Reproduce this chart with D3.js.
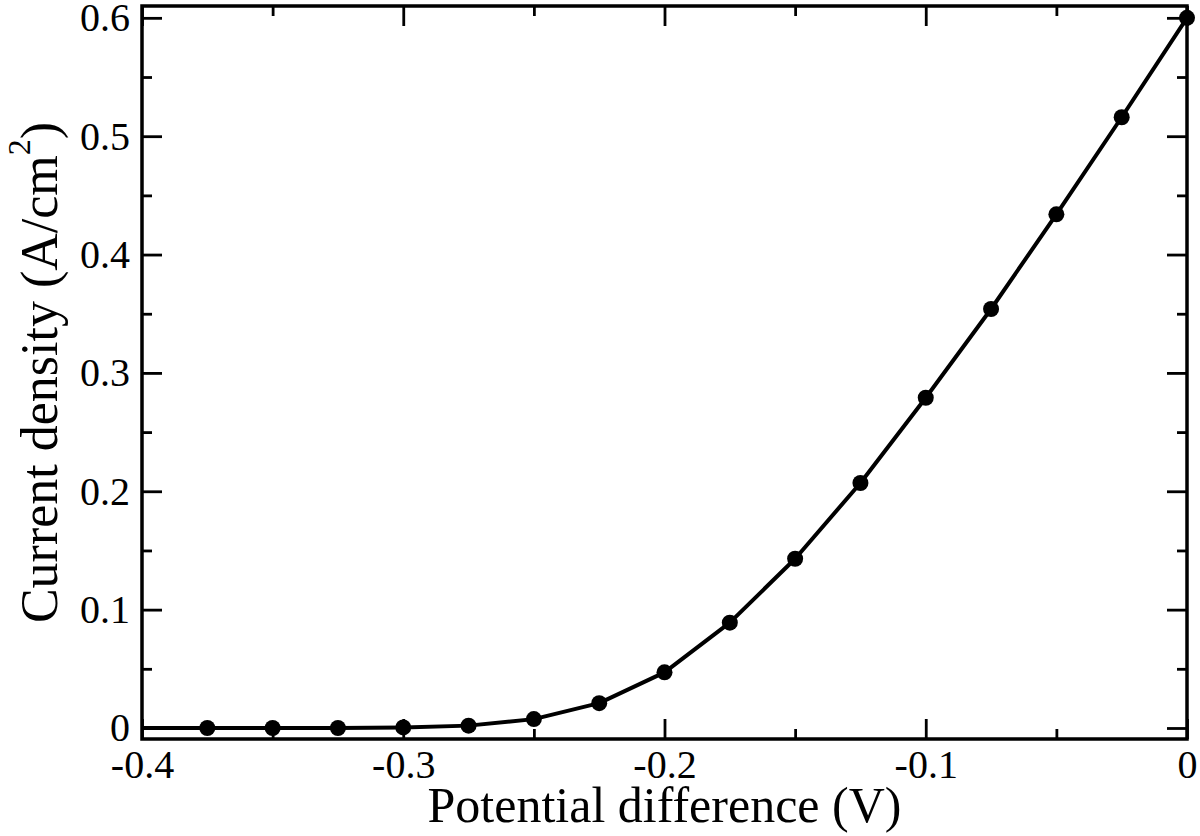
<!DOCTYPE html>
<html>
<head>
<meta charset="utf-8">
<script src="https://cdn.jsdelivr.net/npm/d3@7"></script>
<style>
  body { margin: 0; background: #fff; }
  svg { display: block; }
  text { font-family: "Liberation Serif", "Times New Roman", serif; fill: #000; }
</style>
</head>
<body>
<div id="chart"></div>
<script>
'use strict'
// potential (V) and current density (A/cm^2)
const potential = [-0.4, -0.375, -0.35, -0.325, -0.3, -0.275, -0.25, -0.225, -0.2,
  -0.175, -0.15, -0.125, -0.1, -0.075, -0.05, -0.025, 0];
const current = [0, 0, 0, 0, 0.0005, 0.002, 0.0075, 0.021, 0.047,
  0.089, 0.143, 0.207, 0.279, 0.354, 0.434, 0.516, 0.6];
// first sample has no symbol, only the line
const firstMarker = 1;

const xMajor = [-0.4, -0.3, -0.2, -0.1, 0];
const xMinor = [-0.35, -0.25, -0.15, -0.05];
const yMajor = [0, 0.1, 0.2, 0.3, 0.4, 0.5, 0.6];
const yMinor = [0.05, 0.15, 0.25, 0.35, 0.45, 0.55];

const xLabel = 'Potential difference (V)';

const W = 1200, H = 836;
const margin = {left: 142, top: 6, right: 13, bottom: 97};
const width = W - margin.left - margin.right;
const height = H - margin.top - margin.bottom;

const svg = d3.select('#chart').append('svg')
  .attr('width', W)
  .attr('height', H);

const g = svg.append('g')
  .attr('transform', 'translate(' + margin.left + ',' + margin.top + ')');

const x = d3.scaleLinear().domain([-0.4, 0]).range([0, width]);
const y = d3.scaleLinear().domain([-0.0093, 0.61]).range([height, 0]);

// plain hyphen for negatives, like the original
const fmt = d => d === 0 ? '0' : d.toFixed(1);

function styleAxis(sel) {
  sel.select('.domain').remove();
  sel.selectAll('line').attr('stroke', '#000').attr('stroke-width', 2.8);
}

// bottom
g.append('g').attr('transform', 'translate(0,' + height + ')')
  .call(d3.axisBottom(x).tickValues(xMajor).tickSize(-20).tickPadding(11).tickFormat(fmt))
  .call(styleAxis)
  .selectAll('text').attr('font-size', 40).attr('dy', '0.71em')
  .attr('font-family', '"Liberation Serif", serif');
g.append('g').attr('transform', 'translate(0,' + height + ')')
  .call(d3.axisBottom(x).tickValues(xMinor).tickSize(-10).tickFormat(''))
  .call(styleAxis);
// top
g.append('g')
  .call(d3.axisTop(x).tickValues(xMajor).tickSize(-20).tickFormat(''))
  .call(styleAxis);
g.append('g')
  .call(d3.axisTop(x).tickValues(xMinor).tickSize(-10).tickFormat(''))
  .call(styleAxis);
// left
g.append('g')
  .call(d3.axisLeft(y).tickValues(yMajor).tickSize(-20).tickPadding(12).tickFormat(fmt))
  .call(styleAxis)
  .selectAll('text').attr('font-size', 40)
  .attr('font-family', '"Liberation Serif", serif');
g.append('g')
  .call(d3.axisLeft(y).tickValues(yMinor).tickSize(-10).tickFormat(''))
  .call(styleAxis);
// right
g.append('g').attr('transform', 'translate(' + width + ',0)')
  .call(d3.axisRight(y).tickValues(yMajor).tickSize(-20).tickFormat(''))
  .call(styleAxis);
g.append('g').attr('transform', 'translate(' + width + ',0)')
  .call(d3.axisRight(y).tickValues(yMinor).tickSize(-10).tickFormat(''))
  .call(styleAxis);

// frame
g.append('rect')
  .attr('width', width)
  .attr('height', height)
  .attr('fill', 'none')
  .attr('stroke', '#000')
  .attr('stroke-width', 3.5);

const pts = potential.map((p, i) => [p, current[i]]);

const line = d3.line()
  .x(d => x(d[0]))
  .y(d => y(d[1]));

g.append('path')
  .datum(pts)
  .attr('fill', 'none')
  .attr('stroke', '#000')
  .attr('stroke-width', 4)
  .attr('stroke-linejoin', 'round')
  .attr('d', line);

g.selectAll('circle.pt')
  .data(pts.slice(firstMarker))
  .enter()
  .append('circle')
    .attr('class', 'pt')
    .attr('cx', d => x(d[0]))
    .attr('cy', d => y(d[1]))
    .attr('r', 8)
    .attr('fill', '#000');

// axis titles
g.append('text')
  .attr('x', width / 2)
  .attr('y', height + 83)
  .attr('text-anchor', 'middle')
  .attr('font-size', 50)
  .text(xLabel);

const yt = svg.append('text')
  .attr('transform', 'translate(57,' + (margin.top + height / 2) + ') rotate(-90)')
  .attr('text-anchor', 'middle')
  .attr('font-size', 52);
yt.append('tspan').text('Current density (A/cm');
yt.append('tspan').attr('font-size', 32).attr('dy', -27).text('2');
yt.append('tspan').attr('dy', 27).text(')');
</script>
</body>
</html>
